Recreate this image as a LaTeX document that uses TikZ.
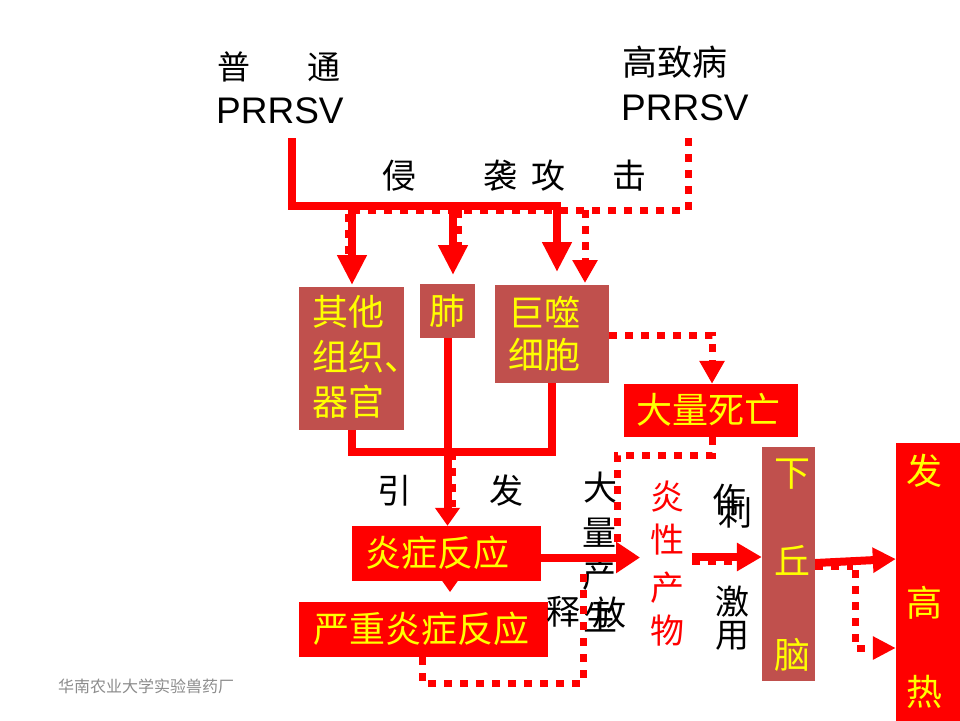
\documentclass[tikz,border=0pt]{standalone}
\usepackage{fontspec}
\setmainfont{Liberation Sans}
\newfontfamily\cjk{Noto Sans CJK SC}
\usetikzlibrary{arrows.meta}
\definecolor{boxbrown}{RGB}{192,80,77}
\definecolor{pptred}{RGB}{255,0,0}
\definecolor{pptyellow}{RGB}{255,255,0}
\definecolor{footgray}{RGB}{140,140,140}
\begin{document}
\begin{tikzpicture}[x=1pt,y=-1pt,
  solidln/.style={draw=pptred,line width=8pt},
  dotln/.style={draw=pptred,line width=7pt,dash pattern=on 8pt off 8pt},
  tipL/.style={-{Triangle[length=30pt,width=28pt]}},
  tipS/.style={-{Triangle[length=23pt,width=24pt]}},
  brownbox/.style={fill=boxbrown,inner sep=0pt},
  redbox/.style={fill=pptred,inner sep=0pt},
  boxtext/.style={text=pptyellow,font=\cjk\fontsize{36}{45}\selectfont,align=left,inner sep=0pt},
  lbl/.style={font=\cjk\fontsize{34}{40}\selectfont,inner sep=0pt},
  redlbl/.style={font=\cjk\fontsize{34}{40}\selectfont,inner sep=0pt,text=pptred},
  latin/.style={font=\fontsize{37}{40}\selectfont,inner sep=0pt}
]
\useasboundingbox (0,0) rectangle (960,720);
\fill[white] (0,0) rectangle (960,720);

% ---------- boxes ----------
\node[brownbox, minimum width=105pt, minimum height=143pt] (qita) at (351.5,358.5) {};
\node[brownbox, minimum width=55pt, minimum height=54pt] (fei) at (447.5,311) {};
\node[brownbox, minimum width=114pt, minimum height=98pt] (jushi) at (552,334) {};
\node[redbox, minimum width=174pt, minimum height=53pt] (siwang) at (711,410.5) {};
\node[redbox, minimum width=189pt, minimum height=55pt] (yanz) at (446.5,553.5) {};
\node[redbox, minimum width=249pt, minimum height=55pt] (yanzz) at (423.5,629.5) {};
\node[brownbox, minimum width=53pt, minimum height=234pt] (xqn) at (788.5,564) {};
\node[redbox, minimum width=64pt, minimum height=280pt] (fgr) at (928,583) {};

% ---------- box texts ----------
\node[boxtext] (qitaT) at (366,357) {其他\\组织、\\器官};
\node[boxtext] (feiT) at (447.5,311) {肺};
\node[boxtext,font=\cjk\fontsize{36}{42}\selectfont] (jushiT) at (544,334) {巨噬\\细胞};
\node[boxtext] (siwangT) at (708,410) {大量死亡};
\node[boxtext] (yanzT) at (437,553) {炎症反应};
\node[boxtext] (yanzzT) at (421,629) {严重炎症反应};
\node[boxtext] (xqn1) at (792,474) {下};
\node[boxtext] (xqn2) at (792,560) {丘};
\node[boxtext] (xqn3) at (792,655) {脑};
\node[boxtext] (fgr1) at (924,471) {发};
\node[boxtext] (fgr2) at (924,603) {高};
\node[boxtext] (fgr3) at (924,692) {热};

% ---------- top labels ----------
\node[lbl,font=\cjk\fontsize{33}{40}\selectfont] (pu) at (234,67) {普};
\node[lbl,font=\cjk\fontsize{33}{40}\selectfont] (tong) at (324,67) {通};
\node[latin,anchor=west] (p1) at (216,111) {PRRSV};
\node[lbl,anchor=west,font=\cjk\fontsize{35}{40}\selectfont] (gzb) at (622,62) {高致病};
\node[latin,anchor=west] (p2) at (621,108) {PRRSV};

\node[lbl] (qin) at (399,176) {侵};
\node[lbl] (xi) at (500,176) {袭};
\node[lbl] (gong) at (548,176) {攻};
\node[lbl] (ji) at (629,176) {击};

\node[lbl] (yin) at (394,491) {引};
\node[lbl] (fa) at (506,491) {发};

\node[lbl] (dl1) at (600,488) {大};
\node[lbl] (dl2) at (599,533) {量};
\node[lbl] (dl3) at (599,575) {产};
\node[lbl] (dl4) at (600,617) {生};
\node[lbl] (sf1) at (563,612) {释};
\node[lbl] (sf2) at (609,613) {放};

\node[redlbl] (yx1) at (667,497) {炎};
\node[redlbl] (yx2) at (667,540) {性};
\node[redlbl] (yx3) at (667,588) {产};
\node[redlbl] (yx4) at (667,631) {物};

\node[lbl] (cj1) at (729,500) {作};
\node[lbl] (cj2) at (735,513) {刺};
\node[lbl] (cj3) at (732,602) {激};
\node[lbl] (cj4) at (732,636) {用};

\node[font=\cjk\fontsize{16}{18}\selectfont,text=footgray,anchor=west,inner sep=0pt] (foot) at (58,686) {华南农业大学实验兽药厂};

% ---------- coordinates ----------
\coordinate (s0) at (292,138);
\coordinate (s2) at (557,206);
\coordinate (b1) at (352,206);
\coordinate (b2) at (453,206);
\coordinate (t1) at (352,285);
\coordinate (t2) at (453,275);
\coordinate (t3) at (557,272);
\coordinate (d0) at (688,138);
\coordinate (d1) at (688,210);
\coordinate (d2) at (348,210);
\coordinate (dt) at (585,283);

% ---------- dotted (high pathogenic) ----------
\draw[dotln] (d0) -- (d1) -- (d2) -- (348,262);
\draw[dotln] (458,210) -- (458,258);
\draw[dotln,tipS] (585,210) -- (dt);

% ---------- solid (normal) ----------
\draw[solidln,tipL] (s0) |- (s2) -- (t3);
\draw[solidln,tipL] (b1) -- (t1);
\draw[solidln,tipL] (b2) -- (t2);

% ---------- lower connectors ----------
\draw[solidln] (qita.south) -- (351.5,452) -- (552,452) -- (jushi.south);
\draw[dotln] (452,452) -- (452,507);
\draw[solidln,-{Triangle[length=18pt,width=24pt]}] (fei.south) -- (yanz.north -| fei.south);
\draw[pptred,line width=2pt,-{Triangle[length=11pt,width=15pt]}] (450,581) -- (450,592);

\draw[dotln,tipS] (609,335) -- (712,335) -- (siwang.north -| 712,0);
\draw[dotln] (siwang.south -| 712,0) -- (712,455) -- (617,455) -- (617,545);
\draw[dotln] (yanzz.south -| 422,0) -- (422,683) -- (583,683) -- (583,570);
\draw[solidln,-{Triangle[length=24pt,width=30pt]}] (yanz.east |- 0,557.5) -- (640,557.5);

\draw[dotln] (692,561) -- (735,561);
\draw[solidln,-{Triangle[length=25pt,width=27pt]}] (692,557) -- (xqn.west |- 0,557);

\draw[dotln] (xqn.east |- 0,566) -- (853,566);
\draw[solidln,-{Triangle[length=23pt,width=24pt]}] (xqn.east |- 0,563) -- (fgr.west |- 0,559);
\draw[dotln,-{Triangle[length=23pt,width=22pt]}] (855,570) -- (855,648) -- (fgr.west |- 0,648);
\end{tikzpicture}
\end{document}
